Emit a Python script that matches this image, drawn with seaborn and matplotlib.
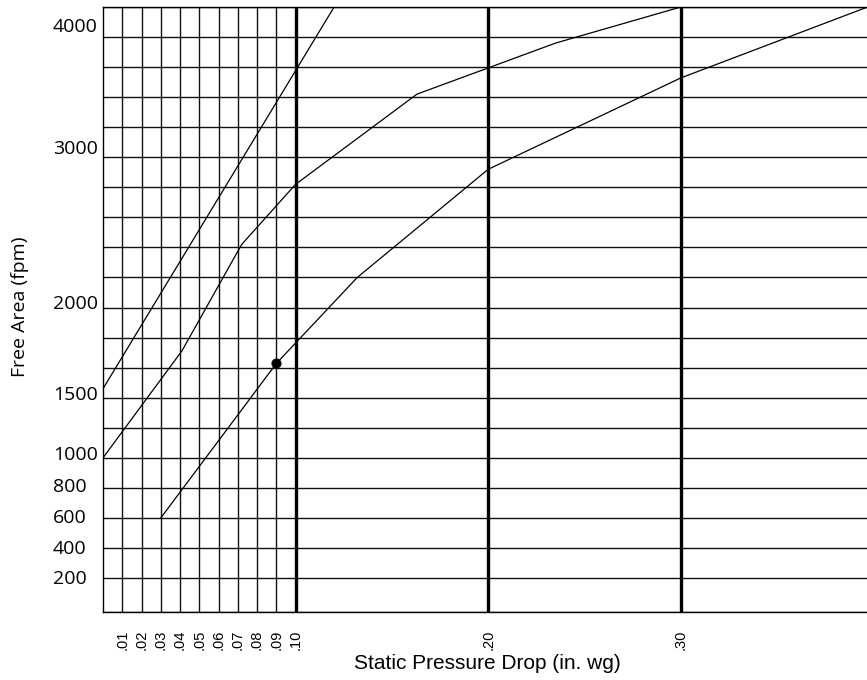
import numpy as np
import pandas as pd
import matplotlib
matplotlib.use("Agg")
import matplotlib.pyplot as plt
import matplotlib.transforms as mtransforms
import seaborn as sns

# x axis: static pressure drop (in. wg)
thin_lines = [0.01, 0.02, 0.03, 0.04, 0.05, 0.06, 0.07, 0.08, 0.09]
thick_lines = [0.10, 0.20, 0.30, 0.40]
pressure_ticks = thin_lines + thick_lines
pressure_labels = [".01", ".02", ".03", ".04", ".05", ".06", ".07", ".08", ".09",
                   ".10", ".20", ".30", ".40"]

# y axis: free area velocity (fpm), drawn on the chart's own uneven scale
fpm_ticks = [200, 400, 600, 800, 1000, 1500, 2000, 3000, 4000]
scale_fpm = [0, 200, 400, 600, 800, 1000, 1500, 2000, 3000, 4000, 4250]
scale_row = [0, 1.13, 2.13, 3.13, 4.13, 5.13, 7.13, 10.13, 15.13, 19.13, 20.13]

# the three curves
curve_a_x = [0.0, 0.12]
curve_a_y = [1550, 4250]
curve_b_x = [0.0, 0.041, 0.072, 0.10, 0.163, 0.235, 0.30]
curve_b_y = [1000, 1760, 2420, 2820, 3525, 3950, 4250]
curve_c_x = [0.03, 0.09, 0.132, 0.20, 0.30, 0.397]
curve_c_y = [600, 1690, 2200, 2920, 3660, 4250]

# example point
point_x = [0.09]
point_y = [1690]

curves = pd.concat([
    pd.DataFrame({"pressure": curve_a_x, "fpm": curve_a_y, "curve": "a"}),
    pd.DataFrame({"pressure": curve_b_x, "fpm": curve_b_y, "curve": "b"}),
    pd.DataFrame({"pressure": curve_c_x, "fpm": curve_c_y, "curve": "c"}),
], ignore_index=True)


def fwd(v):
    return np.interp(v, scale_fpm, scale_row)


def inv(r):
    return np.interp(r, scale_row, scale_fpm)


sns.set_style("white")
plt.rcParams["font.family"] = ["Liberation Sans", "DejaVu Sans"]
plt.rcParams["text.color"] = "black"
plt.rcParams["xtick.color"] = "black"
plt.rcParams["ytick.color"] = "black"
plt.rcParams["xtick.labelcolor"] = "black"
plt.rcParams["ytick.labelcolor"] = "black"

fig = plt.figure(figsize=(8.67, 6.8), dpi=100)
ax = fig.add_axes([103 / 867, 68 / 680, 770.4 / 867, 605 / 680])
ax.set_yscale("function", functions=(fwd, inv))
ax.set_xlim(0, 0.40)
ax.set_ylim(0, 4250)

# grid: one horizontal line per chart row
grid_rows = np.r_[0, 1.13 + np.arange(20)]
for f in inv(grid_rows):
    ax.axhline(f, color="#111111", lw=1.0, zorder=1)
for v in thin_lines:
    ax.axvline(v, color="#111111", lw=1.0, zorder=1)
for v in thick_lines:
    ax.axvline(v, color="black", lw=2.4, zorder=2)

sns.lineplot(data=curves, x="pressure", y="fpm", units="curve", estimator=None,
             sort=False, color="black", lw=0.9, ax=ax, zorder=3)
sns.scatterplot(x=point_x, y=point_y, s=45, color="black", edgecolor="black",
                ax=ax, zorder=4)

ax.set_xticks(pressure_ticks, pressure_labels, rotation=90,
              fontfamily="Liberation Sans", fontsize=10.5, color="black")
ax.set_yticks(fpm_ticks, [str(v) for v in fpm_ticks],
              fontfamily="Open Sans", fontsize=14, color="black")
ax.tick_params(axis="x", length=0, pad=13)
ax.tick_params(axis="y", length=0, pad=36)
ax.set_xlabel("")
ax.set_ylabel("")

# hand-set labels sit a bit above their lines in the original
nudges = [1, 1, 2, 3, 5, 5, 6, 10, 12]
for tick, dy in zip(ax.yaxis.get_major_ticks(), nudges):
    tick.label1.set_horizontalalignment("left")
    tick.label1.set_transform(tick.label1.get_transform()
                              + mtransforms.ScaledTranslation(0, dy / 100, fig.dpi_scale_trans))

for side in ["left", "bottom", "top"]:
    ax.spines[side].set_color("black")
    ax.spines[side].set_linewidth(1.0)
ax.spines["right"].set_visible(False)

fig.text(487 / 867, 11 / 680, "Static Pressure Drop (in. wg)", color="black",
         family="Liberation Sans", fontsize=15, ha="center", va="baseline")
fig.text(20 / 867, 1 - 307 / 680, "Free Area (fpm)", rotation=90, color="black",
         family="Open Sans", fontsize=14, ha="center", va="center")

fig.savefig("out.png", dpi=100)
